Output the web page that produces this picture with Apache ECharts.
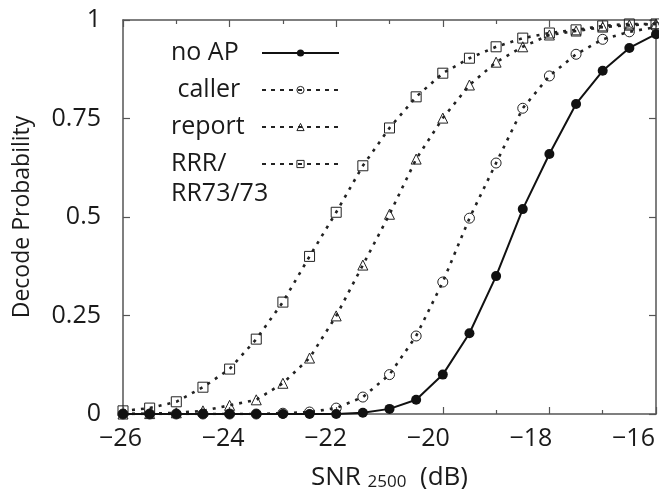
<!DOCTYPE html>
<html>
<head>
<meta charset="utf-8">
<script src="https://cdn.jsdelivr.net/npm/echarts@6/dist/echarts.min.js"></script>
<style>
html,body{margin:0;padding:0;background:#fff;}
#c{width:659px;height:489px;}
</style>
</head>
<body>
<div id="c"></div>
<script>
var snr = [-26, -25.5, -25, -24.5, -24, -23.5, -23, -22.5, -22, -21.5, -21, -20.5, -20, -19.5, -19, -18.5, -18, -17.5, -17, -16.5, -16];
var noAP = [0, 0, 0, 0, 0, 0, 0, 0, 0, 0.003, 0.013, 0.036, 0.10, 0.205, 0.35, 0.52, 0.66, 0.787, 0.871, 0.929, 0.964];
var caller = [0, 0, 0, 0, 0, 0, 0.002, 0.005, 0.015, 0.043, 0.10, 0.198, 0.335, 0.497, 0.637, 0.776, 0.858, 0.913, 0.951, 0.97, 0.982];
var report = [0, 0.001, 0.003, 0.008, 0.022, 0.036, 0.078, 0.142, 0.249, 0.378, 0.507, 0.647, 0.751, 0.835, 0.893, 0.932, 0.962, 0.972, 0.982, 0.987, 0.99];
var rrr = [0.008, 0.015, 0.031, 0.068, 0.114, 0.19, 0.284, 0.40, 0.512, 0.63, 0.726, 0.805, 0.865, 0.903, 0.932, 0.954, 0.967, 0.975, 0.985, 0.99, 0.99];
var seriesNames = ['no AP', 'caller', 'report', 'RRR/RR73/73'];
var legendLabels = ['no AP', ' caller', 'report', 'RRR/\nRR73/73'];
var xTicks = [-26, -24, -22, -20, -18, -16];
var yTicks = [0, 0.25, 0.5, 0.75, 1];

// styling: leftward shift (px) of each x tick label as drawn in the original
var xLabelShift = [2.5, 6.5, 10.5, 14.5, 18.5, 22.5];

var FONT = '"Open Sans", "Noto Sans", sans-serif';
var INK = '#1a1a1a';
var FRAME = '#555';
var TICKFS = 25;

function pairs(ys) { return snr.map(function (x, i) { return [x, ys[i]]; }); }

var xRich = {};
xLabelShift.forEach(function (s, i) {
  xRich['p' + i] = {fontSize: TICKFS, fontFamily: FONT, color: INK, padding: [0, 2 * s, 0, 0]};
});

var chart = echarts.init(document.getElementById('c'), null, {renderer: 'canvas'});

var xBase = {
  type: 'value', min: xTicks[0], max: xTicks[xTicks.length - 1], interval: 2,
  axisLine: {show: true, onZero: false, lineStyle: {color: FRAME, width: 1.5}},
  axisTick: {show: true, inside: true, length: 7, lineStyle: {color: FRAME, width: 1.2}},
  minorTick: {show: true, splitNumber: 2, length: 4, lineStyle: {color: FRAME, width: 1.2}},
  splitLine: {show: false}, minorSplitLine: {show: false}
};
var yBase = {
  type: 'value', min: yTicks[0], max: yTicks[yTicks.length - 1], interval: 0.25,
  axisLine: {show: true, onZero: false, lineStyle: {color: FRAME, width: 1.5}},
  axisTick: {show: true, inside: true, length: 7, lineStyle: {color: FRAME, width: 1.2}},
  splitLine: {show: false}
};

function dotted(name, data, symbol, size) {
  return {
    name: name, type: 'line', data: pairs(data), xAxisIndex: 0, yAxisIndex: 0,
    symbol: symbol, symbolSize: size, showSymbol: true,
    lineStyle: {color: '#222', width: 2.6, type: [3, 6], cap: 'butt'},
    itemStyle: {color: 'rgba(255,255,255,0)', borderColor: '#222', borderWidth: 1},
    emphasis: {disabled: true}
  };
}

var option = {
  animation: false,
  backgroundColor: '#fff',
  grid: {left: 123, right: 3, top: 20, bottom: 75, containLabel: false, outerBoundsMode: 'none'},
  xAxis: [
    Object.assign({}, xBase, {
      position: 'bottom',
      axisLabel: {show: true, margin: 12, fontSize: TICKFS, fontFamily: FONT, color: INK,
        rich: xRich,
        formatter: function (v) {
          var i = xTicks.indexOf(v);
          var t = String(v).replace('-', '\u2212');
          return i >= 0 ? '{p' + i + '|' + t + '}' : t;
        }},
      name: '{a|SNR }{s|2500}{a|  (dB)}',
      nameLocation: 'middle', nameGap: 51,
      nameTextStyle: {
        rich: {
          a: {fontSize: 26, fontFamily: FONT, color: INK, lineHeight: 26, padding: [0, 0, 9, 0], verticalAlign: 'top'},
          s: {fontSize: 17, fontFamily: FONT, color: INK, lineHeight: 18, verticalAlign: 'bottom'}
        }
      }
    }),
    Object.assign({}, xBase, {position: 'top', axisLabel: {show: false}})
  ],
  yAxis: [
    Object.assign({}, yBase, {
      position: 'left',
      axisLabel: {show: true, margin: 22, fontSize: TICKFS, fontFamily: FONT, color: INK},
      name: 'Decode Probability', nameLocation: 'middle', nameGap: 89,
      nameTextStyle: {fontSize: 23, fontFamily: FONT, color: INK}
    }),
    Object.assign({}, yBase, {position: 'right', axisLabel: {show: false}})
  ],
  legend: {
    orient: 'vertical', align: 'right', right: 319, top: 38, padding: 0,
    itemWidth: 77, itemHeight: 9, itemGap: 7,
    itemStyle: {borderWidth: 1},
    lineStyle: {type: [4, 5]},
    selectedMode: false,
    textStyle: {fontSize: TICKFS, fontFamily: FONT, color: INK, lineHeight: 30,
      rich: {L: {width: 86, align: 'left', fontSize: TICKFS, fontFamily: FONT, color: INK, lineHeight: 30}}},
    formatter: function (name) {
      var lab = legendLabels[seriesNames.indexOf(name)];
      return lab.split('\n').map(function (t) { return '{L|' + t + '}'; }).join('\n');
    },
    data: [
      {name: seriesNames[0], lineStyle: {type: 'solid'}},
      {name: seriesNames[1]},
      {name: seriesNames[2]},
      {name: seriesNames[3], textStyle: {padding: [0, 0, -30, 0]}}
    ]
  },
  series: [
    {
      name: seriesNames[0], type: 'line', data: pairs(noAP), xAxisIndex: 0, yAxisIndex: 0,
      symbol: 'circle', symbolSize: 10, showSymbol: true,
      lineStyle: {color: '#111', width: 2},
      itemStyle: {color: '#111', borderWidth: 0},
      emphasis: {disabled: true}, z: 5
    },
    dotted(seriesNames[1], caller, 'circle', 10),
    dotted(seriesNames[2], report, 'triangle', 10),
    dotted(seriesNames[3], rrr, 'rect', 10)
  ]
};
chart.setOption(option);
</script>
</body>
</html>
